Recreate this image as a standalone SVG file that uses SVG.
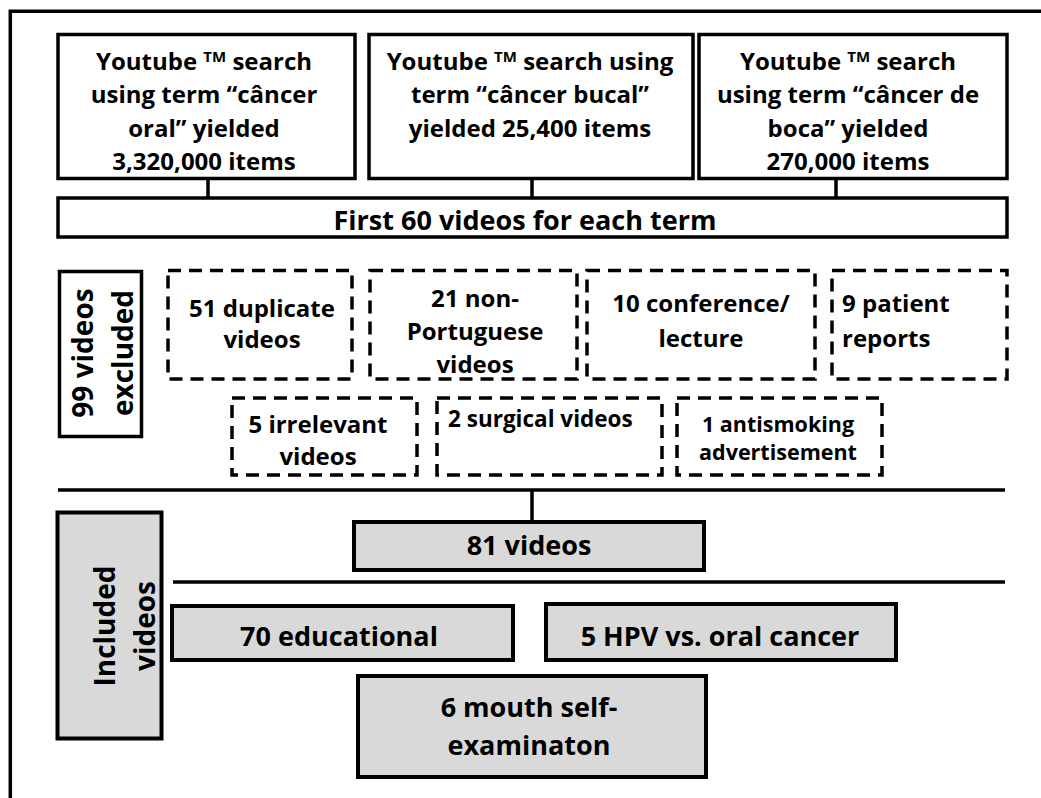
<svg xmlns="http://www.w3.org/2000/svg" width="1041" height="798" viewBox="0 0 1041 798">
<style>
text{font-family:"Open Sans","Liberation Sans",sans-serif;font-weight:700;fill:#000}
.t24{font-size:24px;text-anchor:middle}
.l24{font-size:24px;text-anchor:start}
.t27{font-size:27px;text-anchor:middle}
.rot{font-size:28px;text-anchor:middle}
.sup{font-size:15px}
.box{fill:#fff;stroke:#000;stroke-width:3.5}
.dash{fill:none;stroke:#000;stroke-width:3.5;stroke-dasharray:13 8}
.gbox{fill:#d9d9d9;stroke:#000;stroke-width:4}
.ln{stroke:#000;stroke-width:3.5;fill:none}
</style>
<rect width="1041" height="798" fill="#fff"/>
<g id="frame">
<path class="ln" d="M10.3 798V11.3H1041" stroke-width="4"/>
</g>
<g id="connectors">
<line class="ln" x1="208" y1="178" x2="208" y2="198"/>
<line class="ln" x1="532" y1="178" x2="532" y2="198"/>
<line class="ln" x1="836" y1="178" x2="836" y2="198"/>
<line class="ln" x1="58" y1="490" x2="1005" y2="490"/>
<line class="ln" x1="532" y1="490" x2="532" y2="522"/>
<line class="ln" x1="173" y1="582" x2="1005" y2="582"/>
</g>
<g id="search1">
<rect class="box" x="58" y="34.5" width="297" height="144"/>
<text class="t24" x="204" y="70">Youtube <tspan class="sup" dy="-8">TM</tspan><tspan dy="8"> search</tspan></text>
<text class="t24" x="204" y="103">using term “câncer</text>
<text class="t24" x="204" y="136.5">oral” yielded</text>
<text class="t24" x="204" y="170">3,320,000 items</text>
</g>
<g id="search2">
<rect class="box" x="369" y="34.5" width="324" height="144"/>
<text class="t24" x="530" y="70">Youtube <tspan class="sup" dy="-8">TM</tspan><tspan dy="8"> search using</tspan></text>
<text class="t24" x="530" y="103">term “câncer bucal”</text>
<text class="t24" x="530" y="136.5">yielded 25,400 items</text>
</g>
<g id="search3">
<rect class="box" x="699" y="34.5" width="308" height="144"/>
<text class="t24" x="848" y="70">Youtube <tspan class="sup" dy="-8">TM</tspan><tspan dy="8"> search</tspan></text>
<text class="t24" x="848" y="103">using term “câncer de</text>
<text class="t24" x="848" y="136.5">boca” yielded</text>
<text class="t24" x="848" y="170">270,000 items</text>
</g>
<g id="first60">
<rect class="box" x="58" y="198" width="949" height="39"/>
<text class="t27" x="525" y="230">First 60 videos for each term</text>
</g>
<g id="excluded">
<rect class="box" x="59.5" y="271.5" width="82" height="165"/>
<text class="rot" transform="translate(93,353) rotate(-90)">99 videos</text>
<text class="rot" transform="translate(133,353) rotate(-90)">excluded</text>
</g>
<g id="dup">
<rect class="dash" x="168" y="270.5" width="184" height="108.5"/>
<text class="t24" x="262" y="316.7">51 duplicate</text>
<text class="t24" x="262" y="348.3">videos</text>
</g>
<g id="nonpt">
<rect class="dash" x="370" y="270.5" width="207" height="108.5"/>
<text class="t24" x="475" y="306.7">21 non-</text>
<text class="t24" x="475" y="340">Portuguese</text>
<text class="t24" x="475" y="373.3">videos</text>
</g>
<g id="conf">
<rect class="dash" x="587" y="270.5" width="228" height="108.5"/>
<text class="t24" x="701" y="312.3">10 conference/</text>
<text class="t24" x="701" y="346.7">lecture</text>
</g>
<g id="patient">
<rect class="dash" x="832" y="270.5" width="175" height="108.5"/>
<text class="l24" x="842" y="312.3">9 patient</text>
<text class="l24" x="842" y="346.7">reports</text>
</g>
<g id="irrelevant">
<rect class="dash" x="232" y="398" width="185" height="77"/>
<text class="t24" x="318" y="433">5 irrelevant</text>
<text class="t24" x="318" y="465">videos</text>
</g>
<g id="surgical">
<rect class="dash" x="437" y="398" width="225" height="77"/>
<text x="448" y="426.7" font-size="22.5">2 surgical videos</text>
</g>
<g id="antismoking">
<rect class="dash" x="677" y="398" width="205" height="77"/>
<text x="778" y="431.7" font-size="21.5" text-anchor="middle">1 antismoking</text>
<text x="778" y="460" font-size="21.5" text-anchor="middle">advertisement</text>
</g>
<g id="v81">
<rect class="gbox" x="354" y="522" width="350" height="48"/>
<text class="t27" x="529" y="555">81 videos</text>
</g>
<g id="included">
<rect class="gbox" x="57.5" y="512.5" width="104" height="226"/>
<text class="rot" font-size="26.5" transform="translate(115,626) rotate(-90)">Included</text>
<text class="rot" font-size="26.5" transform="translate(155,626) rotate(-90)">videos</text>
</g>
<g id="edu">
<rect class="gbox" x="172" y="606" width="341" height="54"/>
<text class="t27" x="339" y="646">70 educational</text>
</g>
<g id="hpv">
<rect class="gbox" x="546" y="604" width="350" height="56"/>
<text class="t27" x="720" y="645.5">5 HPV vs. oral cancer</text>
</g>
<g id="mouth">
<rect class="gbox" x="358" y="676" width="348" height="101"/>
<text class="t27" x="529" y="717">6 mouth self-</text>
<text class="t27" x="529" y="755">examinaton</text>
</g>
</svg>
